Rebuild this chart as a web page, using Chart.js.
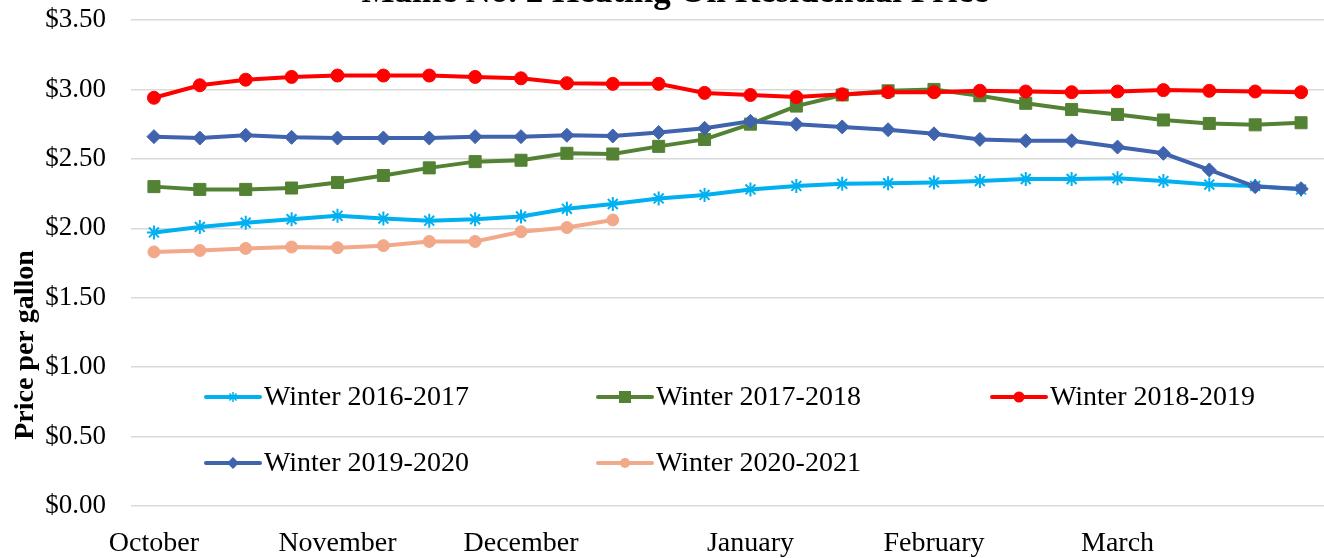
<!DOCTYPE html>
<html>
<head>
<meta charset="utf-8">
<title>Maine No. 2 Heating Oil Residential Price</title>
<script src="https://cdn.jsdelivr.net/npm/chart.js@4"></script>
<style>
    html, body { margin: 0; padding: 0; background: #ffffff; overflow: hidden; }
    #wrap { width: 1324px; height: 558px; position: relative; }
</style>
</head>
<body>
<div id="wrap"><canvas id="chart"></canvas></div>
<script>
// weekly survey, month names only on the first week of each month
const weeks = ['October', '', '', '', 'November', '', '', '', 'December', '', '', '', '',
    'January', '', '', '', 'February', '', '', '', 'March', '', '', '', ''];

const winter1617 = [1.97, 2.01, 2.04, 2.065, 2.09, 2.07, 2.055, 2.065, 2.085, 2.14, 2.175, 2.215, 2.24,
    2.28, 2.305, 2.32, 2.325, 2.33, 2.34, 2.355, 2.355, 2.36, 2.34, 2.315, 2.305, 2.28];
const winter1718 = [2.30, 2.28, 2.28, 2.29, 2.33, 2.38, 2.435, 2.48, 2.49, 2.54, 2.535, 2.59, 2.64,
    2.75, 2.88, 2.96, 2.99, 3.00, 2.955, 2.90, 2.855, 2.82, 2.78, 2.755, 2.745, 2.76];
const winter1819 = [2.94, 3.03, 3.07, 3.09, 3.10, 3.10, 3.10, 3.09, 3.08, 3.045, 3.04, 3.04, 2.975,
    2.96, 2.945, 2.965, 2.98, 2.98, 2.99, 2.985, 2.98, 2.985, 2.995, 2.99, 2.985, 2.98];
const winter1920 = [2.66, 2.65, 2.67, 2.655, 2.65, 2.65, 2.65, 2.66, 2.66, 2.67, 2.665, 2.69, 2.72,
    2.77, 2.75, 2.73, 2.71, 2.68, 2.64, 2.63, 2.63, 2.585, 2.54, 2.42, 2.30, 2.285];
const winter2021 = [1.83, 1.84, 1.855, 1.865, 1.86, 1.875, 1.905, 1.905, 1.975, 2.005, 2.06];

const seriesNames = ['Winter 2016-2017', 'Winter 2017-2018', 'Winter 2018-2019', 'Winter 2019-2020', 'Winter 2020-2021'];

const serif = "'Liberation Serif', 'DejaVu Serif', serif";

function drawMarker(ctx, style, x, y, r, color) {
    ctx.save();
    ctx.fillStyle = color;
    ctx.strokeStyle = color;
    ctx.lineWidth = 1.5;
    ctx.beginPath();
    if (style === 'circle') {
        ctx.arc(x, y, r, 0, Math.PI * 2);
        ctx.fill();
    } else if (style === 'rect') {
        ctx.fillRect(x - r, y - r, r * 2, r * 2);
    } else if (style === 'rectRot') {
        ctx.moveTo(x, y - r);
        ctx.lineTo(x + r, y);
        ctx.lineTo(x, y + r);
        ctx.lineTo(x - r, y);
        ctx.closePath();
        ctx.fill();
    } else if (style === 'star') {
        ctx.moveTo(x, y - r); ctx.lineTo(x, y + r);
        ctx.moveTo(x - r, y); ctx.lineTo(x + r, y);
        const d = r * Math.SQRT1_2;
        ctx.moveTo(x - d, y - d); ctx.lineTo(x + d, y + d);
        ctx.moveTo(x - d, y + d); ctx.lineTo(x + d, y - d);
        ctx.stroke();
    }
    ctx.restore();
}

// legend inside the plot, title cut at the top, rotated axis title
const extras = {
    id: 'extras',
    afterDraw(chart) {
        const ctx = chart.ctx;
        const cols = [206, 598, 992];
        const rows = [397, 463];
        const legendSize = [5, 6, 5.5, 6, 5];
        chart.data.datasets.forEach((ds, i) => {
            const x = cols[i % 3];
            const y = rows[Math.floor(i / 3)];
            ctx.save();
            ctx.strokeStyle = ds.borderColor;
            ctx.lineWidth = 4;
            ctx.lineCap = 'round';
            ctx.beginPath();
            ctx.moveTo(x, y);
            ctx.lineTo(x + 54, y);
            ctx.stroke();
            ctx.restore();
            drawMarker(ctx, ds.pointStyle, x + 27, y, legendSize[i], ds.borderColor);
            ctx.save();
            ctx.fillStyle = '#000000';
            ctx.font = '28px ' + serif;
            ctx.textBaseline = 'middle';
            ctx.fillText(ds.label, x + 58, y + 1);
            ctx.restore();
        });

        ctx.save();
        ctx.fillStyle = '#000000';
        ctx.font = 'bold 35px ' + serif;
        ctx.textAlign = 'center';
        ctx.textBaseline = 'alphabetic';
        ctx.fillText('Maine No. 2 Heating Oil Residential Price', 675, 2);
        ctx.restore();

        ctx.save();
        ctx.fillStyle = '#000000';
        ctx.font = 'bold 28px ' + serif;
        ctx.translate(26, 345);
        ctx.rotate(-Math.PI / 2);
        ctx.textAlign = 'center';
        ctx.textBaseline = 'middle';
        ctx.fillText('Price per gallon', 0, 0);
        ctx.restore();
    }
};

const ctx = document.getElementById('chart').getContext('2d');
const chart = new Chart(ctx, {
    type: 'line',
    data: {
        labels: weeks,
        datasets: [
            {
                label: seriesNames[0],
                data: winter1617,
                borderColor: '#00B0F0',
                backgroundColor: '#00B0F0',
                pointStyle: 'star',
                pointRadius: 7,
                pointBorderWidth: 2,
                order: 5
            },
            {
                label: seriesNames[1],
                data: winter1718,
                borderColor: '#548235',
                backgroundColor: '#548235',
                pointStyle: 'rect',
                pointRadius: 8.5,
                pointBorderWidth: 1,
                order: 4
            },
            {
                label: seriesNames[2],
                data: winter1819,
                borderColor: '#FF0000',
                backgroundColor: '#FF0000',
                pointStyle: 'circle',
                pointRadius: 6.5,
                pointBorderWidth: 1,
                order: 3
            },
            {
                label: seriesNames[3],
                data: winter1920,
                borderColor: '#3F63AD',
                backgroundColor: '#3F63AD',
                pointStyle: 'rectRot',
                pointRadius: 7,
                pointBorderWidth: 1,
                order: 2
            },
            {
                label: seriesNames[4],
                data: winter2021,
                borderColor: '#F2A98A',
                backgroundColor: '#F2A98A',
                pointStyle: 'circle',
                pointRadius: 6,
                pointBorderWidth: 1,
                order: 1
            }
        ]
    },
    options: {
        responsive: true,
        maintainAspectRatio: false,
        animation: false,
        elements: {
            line: { borderWidth: 4, tension: 0 }
        },
        layout: { autoPadding: false, padding: { top: 20, right: 0, bottom: 0, left: 0 } },
        plugins: {
            legend: { display: false },
            title: { display: false },
            tooltip: { enabled: false }
        },
        scales: {
            x: {
                offset: true,
                grid: { display: false },
                border: { display: false },
                ticks: {
                    autoSkip: false,
                    maxRotation: 0,
                    padding: 13,
                    color: '#000000',
                    font: { family: serif, size: 28 }
                },
                afterFit: (scale) => {
                    scale.height = 52;
                    scale.paddingLeft = 0;
                    scale.paddingRight = 0;
                }
            },
            y: {
                min: 0,
                max: 3.5,
                grid: { color: '#D9D9D9', lineWidth: 1.5, drawTicks: false },
                border: { display: false },
                ticks: {
                    stepSize: 0.5,
                    padding: 25,
                    color: '#000000',
                    font: { family: serif, size: 27 },
                    callback: (v) => '$' + Number(v).toFixed(2)
                },
                afterFit: (scale) => {
                    scale.width = 131;
                    scale.paddingTop = 0;
                    scale.paddingBottom = 0;
                }
            }
        }
    },
    plugins: [extras]
});
</script>
</body>
</html>
